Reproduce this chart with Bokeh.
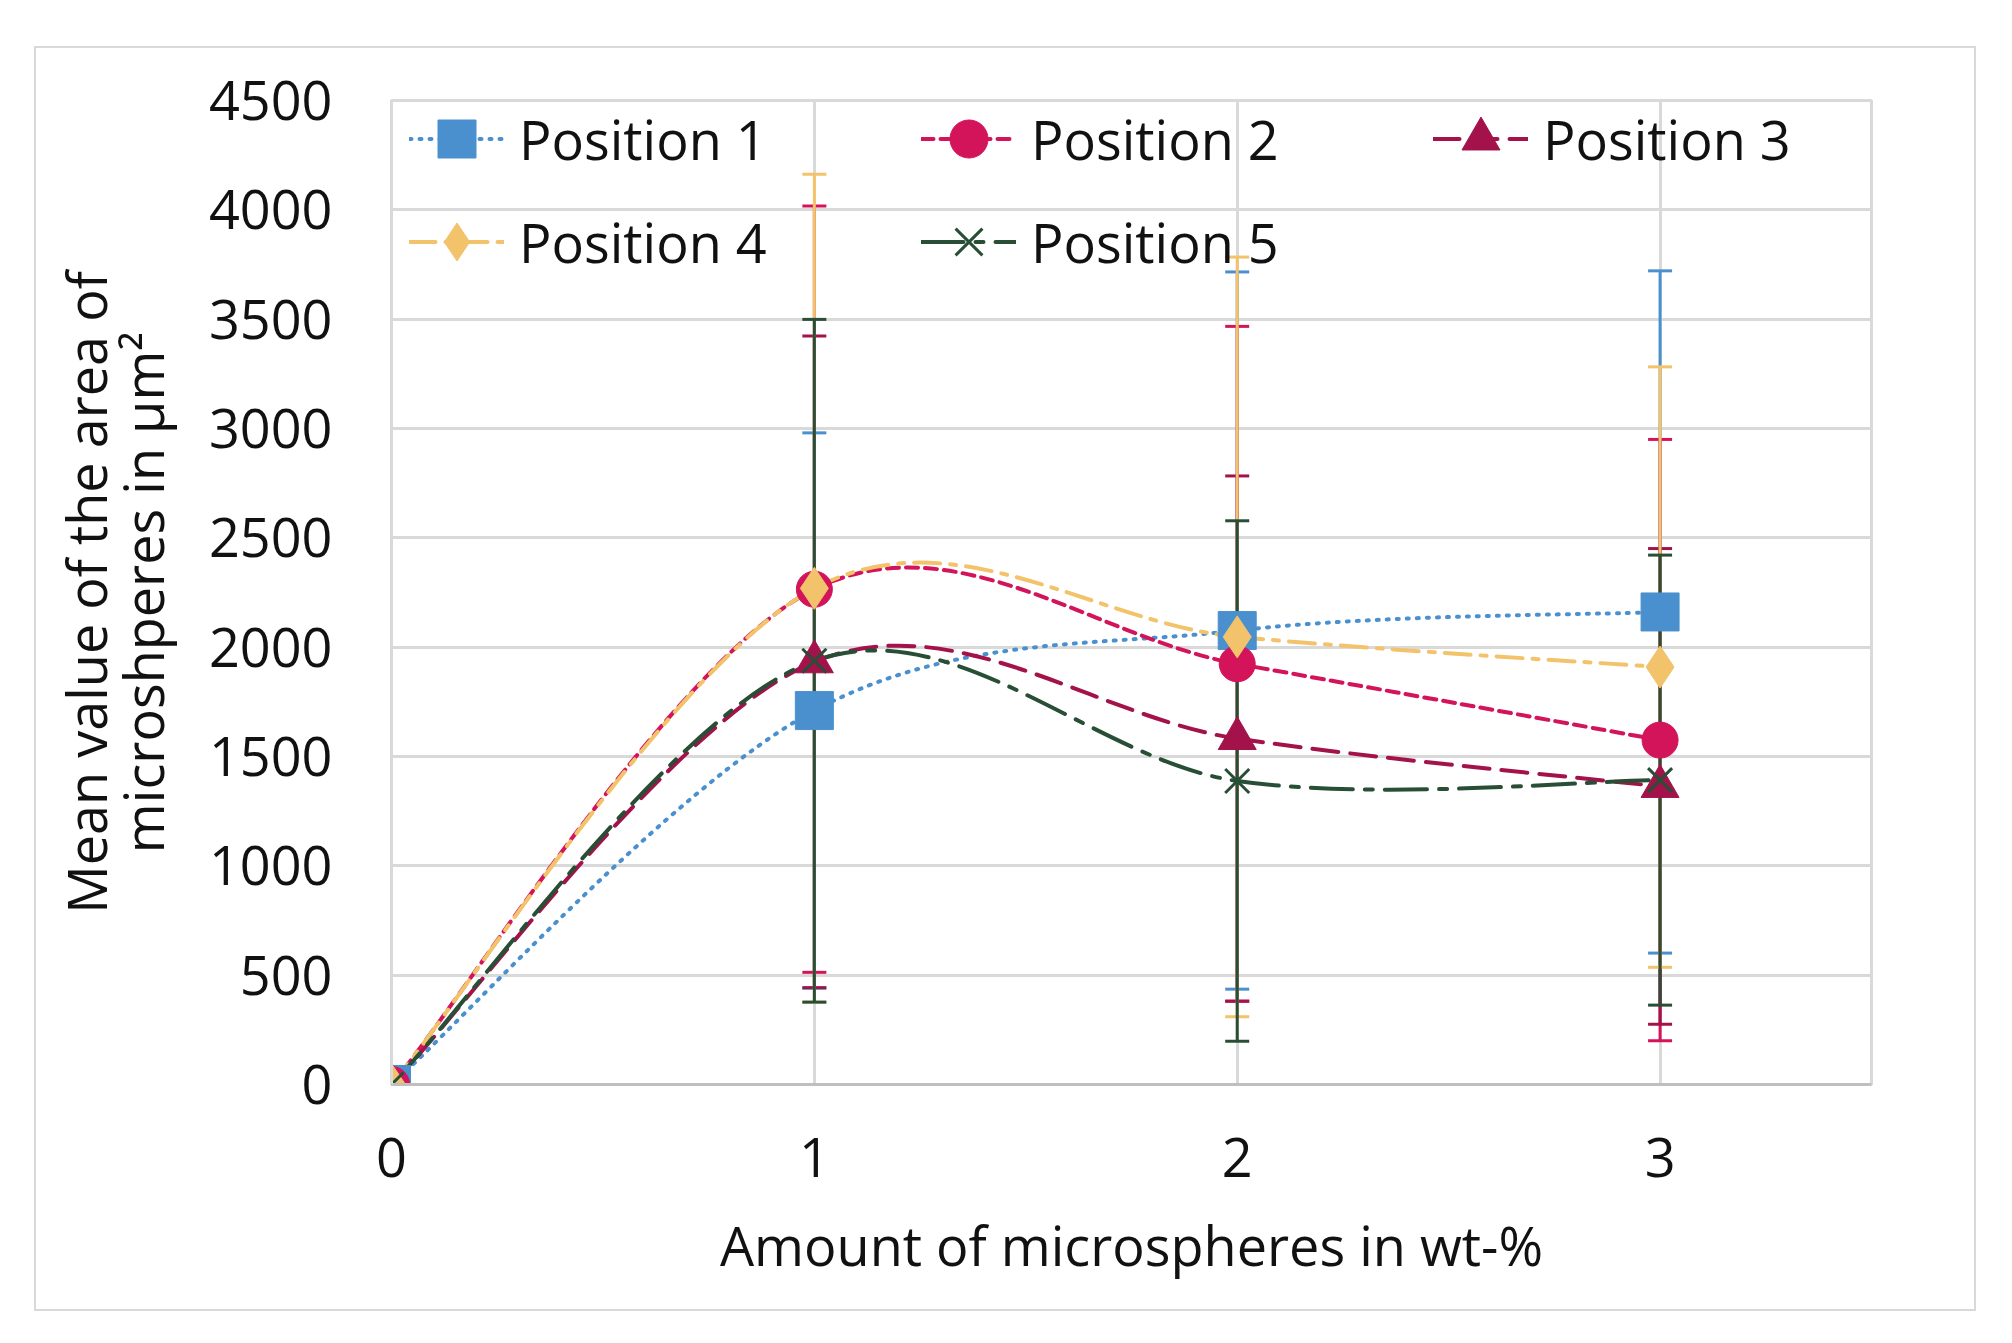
from bokeh.plotting import figure
from bokeh.models import (ColumnDataSource, Whisker, TeeHead, Legend, LegendItem,
                          FixedTicker, Range1d, Spacer)
from bokeh.layouts import column, row
from bokeh.embed import file_html
from bokeh.resources import INLINE

# ---------------- data ----------------
x_vals = [0, 1, 2, 3]
series_names = ["Position 1", "Position 2", "Position 3", "Position 4", "Position 5"]
pos1_mean = [0, 1710, 2076, 2161]
pos1_err = [0, 1270, 1640, 1560]
pos2_mean = [0, 2265, 1924, 1575]
pos2_err = [0, 1752, 1543, 1375]
pos3_mean = [0, 1933, 1582, 1363]
pos3_err = [0, 1490, 1201, 1088]
pos4_mean = [0, 2269, 2047, 1909]
pos4_err = [0, 1894, 1737, 1373]
pos5_mean = [0, 1938, 1388, 1392]
pos5_err = [0, 1561, 1190, 1029]
x_ticks = [0, 1, 2, 3]
y_ticks = [0, 500, 1000, 1500, 2000, 2500, 3000, 3500, 4000, 4500]

means = [pos1_mean, pos2_mean, pos3_mean, pos4_mean, pos5_mean]
errs = [pos1_err, pos2_err, pos3_err, pos4_err, pos5_err]

# ---------------- styles ----------------
colors = ["#4A90CE", "#D4145A", "#A3124B", "#F2C36B", "#284E36"]
dashes = ["2 8", "12 7", "26 12", "26 10 6 10", "42 12 8 12"]
markers = ["square", "circle", "triangle", "diamond", "x"]
msizes = [38, 36, 38, 42, 34]
FONT = "Open Sans"
FS = "54px"

p = figure(width=1938, height=1261, output_backend="svg", toolbar_location=None,
           x_range=Range1d(0, 3.5), y_range=Range1d(0, 4500),
           min_border_left=355, min_border_top=52, min_border_right=103,
           min_border_bottom=225)
p.styles = {"outline": "2px solid #d9d9d9"}
p.background_fill_color = "white"
p.border_fill_color = "white"
p.outline_line_color = "#d9d9d9"
p.outline_line_width = 3

p.xaxis.ticker = FixedTicker(ticks=x_ticks)
p.yaxis.ticker = FixedTicker(ticks=y_ticks)
p.xgrid.ticker = FixedTicker(ticks=x_ticks)
p.ygrid.ticker = FixedTicker(ticks=y_ticks)
for g in (p.xgrid, p.ygrid):
    g.grid_line_color = "#d9d9d9"
    g.grid_line_width = 3

for ax in (p.xaxis, p.yaxis):
    ax.major_tick_line_color = None
    ax.minor_tick_line_color = None
    ax.major_label_text_font = FONT
    ax.major_label_text_font_size = FS
    ax.major_label_text_color = "#111111"
    ax.axis_label_text_font = FONT
    ax.axis_label_text_font_size = FS
    ax.axis_label_text_font_style = "normal"
    ax.axis_label_text_color = "#111111"
p.xaxis.axis_line_color = "#bfbfbf"
p.xaxis.axis_line_width = 3
p.yaxis.axis_line_color = "#d9d9d9"
p.yaxis.axis_line_width = 3
p.xaxis.major_label_standoff = 47
p.yaxis.major_label_standoff = 53
p.xaxis.axis_label = "Amount of microspheres in wt-%"
p.yaxis.axis_label = "Mean value of the area of\nmicroshperes in µm²"
p.yaxis.axis_label_text_line_height = 0.77
p.xaxis.axis_label_standoff = 28
p.yaxis.axis_label_standoff = 26


def bezier_data(xs, ys):
    n = len(xs)
    d = dict(x0=[], y0=[], x1=[], y1=[], cx0=[], cy0=[], cx1=[], cy1=[])
    for i in range(n - 1):
        a = i - 1 if i > 0 else i
        b = i + 2 if i + 2 < n else i + 1
        d["x0"].append(xs[i]); d["y0"].append(ys[i])
        d["x1"].append(xs[i + 1]); d["y1"].append(ys[i + 1])
        d["cx0"].append(xs[i] + (xs[i + 1] - xs[a]) / 6)
        d["cy0"].append(ys[i] + (ys[i + 1] - ys[a]) / 6)
        d["cx1"].append(xs[i + 1] - (xs[b] - xs[i]) / 6)
        d["cy1"].append(ys[i + 1] - (ys[b] - ys[i]) / 6)
    return d


# error bars first
for m, e, c in zip(means, errs, colors):
    src = ColumnDataSource(dict(x=x_vals,
                                up=[a + b for a, b in zip(m, e)],
                                lo=[a - b for a, b in zip(m, e)]))
    w = Whisker(source=src, base="x", upper="up", lower="lo",
                line_color=c, line_width=3, level="underlay",
                upper_head=TeeHead(size=24, line_color=c, line_width=3),
                lower_head=TeeHead(size=24, line_color=c, line_width=3))
    p.add_layout(w)

nan = float("nan")
line_rs = []
for m, c, dsh in zip(means, colors, dashes):
    p.bezier(x0="x0", y0="y0", x1="x1", y1="y1", cx0="cx0", cy0="cy0",
             cx1="cx1", cy1="cy1", source=ColumnDataSource(bezier_data(x_vals, m)),
             line_color=c, line_width=4, line_dash=dsh, line_cap="round")
    # legend-only line sample (no visible data)
    dummy = p.line(x=[nan], y=[nan], line_color=c, line_width=4, line_dash=dsh,
                   line_cap="round")
    line_rs.append(dummy)

items = []
for name, m, c, mk, ms, lr in zip(series_names, means, colors, markers, msizes, line_rs):
    if mk == "x":
        r = p.scatter(x=x_vals, y=m, marker=mk, size=ms, line_color=c, line_width=3)
    else:
        r = p.scatter(x=x_vals, y=m, marker=mk, size=ms, fill_color=c, line_color=c)
    items.append(LegendItem(label=name, renderers=[lr, r]))

legend = Legend(items=items, location=(18, 791), orientation="horizontal", ncols=3)
legend.label_text_font = FONT
legend.label_text_font_size = FS
legend.label_text_color = "#111111"
legend.glyph_width = 95
legend.glyph_height = 103
legend.label_height = 103
legend.label_width = 402
legend.label_standoff = 15
legend.spacing = 0
legend.padding = 0
legend.margin = 0
legend.border_line_color = None
legend.background_fill_alpha = 0
p.add_layout(legend)

layout = column(Spacer(height=48), row(Spacer(width=36), p))
open("out.html", "w").write(file_html(layout, INLINE))
